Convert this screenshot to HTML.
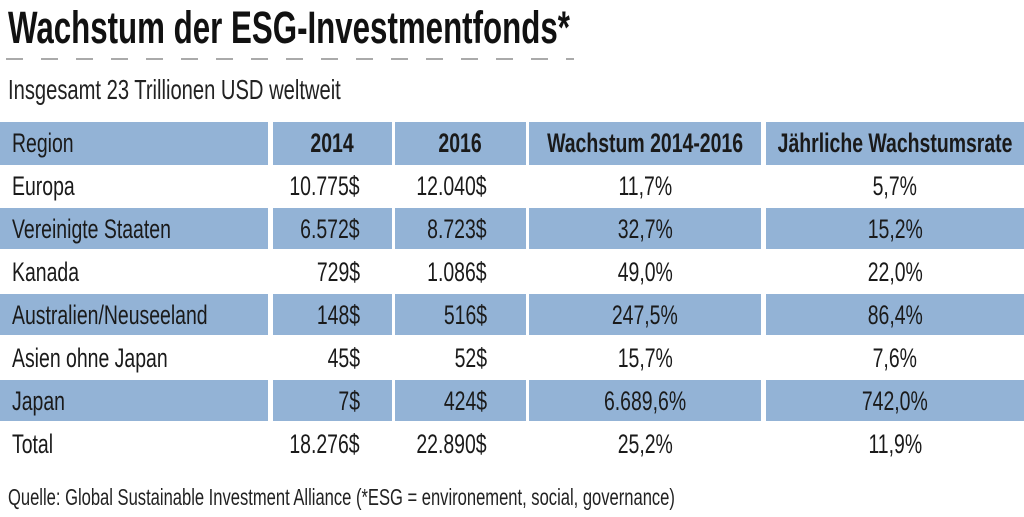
<!DOCTYPE html>
<html><head><meta charset="utf-8"><style>
body{margin:0;width:1024px;height:517px;background:#fff;position:relative;overflow:hidden;font-family:"Liberation Sans",sans-serif;color:#1a1a1a}
.t{position:absolute;white-space:nowrap;transform-origin:0 0;transform:scaleX(0.72)}
.c{position:absolute;background:#93b3d6}
.r{position:absolute;white-space:nowrap;font-size:27px;line-height:43px}
.r span{display:inline-block;transform:scaleX(0.72)}
</style></head><body>
<div class="t" style="left:8px;top:2px;font-size:45px;font-weight:bold;color:#111;transform:scaleX(0.695)">Wachstum der ESG-Investmentfonds*</div>
<div style="position:absolute;left:6px;top:58px;width:568px;height:2px;background:repeating-linear-gradient(90deg,#aaa 0 17px,transparent 17px 35px)"></div>
<div class="t" style="left:8px;top:74px;font-size:28px;color:#222">Insgesamt 23 Trillionen USD weltweit</div>
<div id="g"></div>
<script>
const rows=[["Region","2014","2016","Wachstum 2014-2016","Jährliche Wachstumsrate"],
["Europa","10.775$","12.040$","11,7%","5,7%"],
["Vereinigte Staaten","6.572$","8.723$","32,7%","15,2%"],
["Kanada","729$","1.086$","49,0%","22,0%"],
["Australien/Neuseeland","148$","516$","247,5%","86,4%"],
["Asien ohne Japan","45$","52$","15,7%","7,6%"],
["Japan","7$","424$","6.689,6%","742,0%"],
["Total","18.276$","22.890$","25,2%","11,9%"]];
const cols=[[0,268],[273,392],[395,526],[529,761],[766,1024]];
let h="";
function cen(l,w,y,txt,b){return `<div class="r" style="${b}left:${l-200}px;width:${w+400}px;top:${y}px;text-align:center"><span>${txt}</span></div>`;}
rows.forEach((r,i)=>{
 const y=122+i*43;
 if(i%2==0){cols.forEach(c=>{h+=`<div class="c" style="left:${c[0]}px;top:${y}px;width:${c[1]-c[0]}px;height:${i==0?43:41}px"></div>`});}
 const b=i==0?"font-weight:bold;":"";
 h+=`<div class="r" style="left:12px;top:${y}px"><span style="transform-origin:0 50%">${r[0]}</span></div>`;
 if(i==0){
  h+=cen(273,119,y,r[1],b);
  h+=cen(395,131,y,r[2],b);
 }else{
  h+=`<div class="r" style="right:${1024-360}px;top:${y}px"><span style="transform-origin:100% 50%">${r[1]}</span></div>`;
  h+=`<div class="r" style="right:${1024-487}px;top:${y}px"><span style="transform-origin:100% 50%">${r[2]}</span></div>`;
 }
 h+=cen(529,232,y,r[3],b);
 h+=cen(766,258,y,r[4],b);
});
document.getElementById("g").innerHTML=h;
</script>
<div class="t" style="left:8px;top:484px;font-size:23px;color:#222">Quelle: Global Sustainable Investment Alliance (*ESG = environement, social, governance)</div>
</body></html>
